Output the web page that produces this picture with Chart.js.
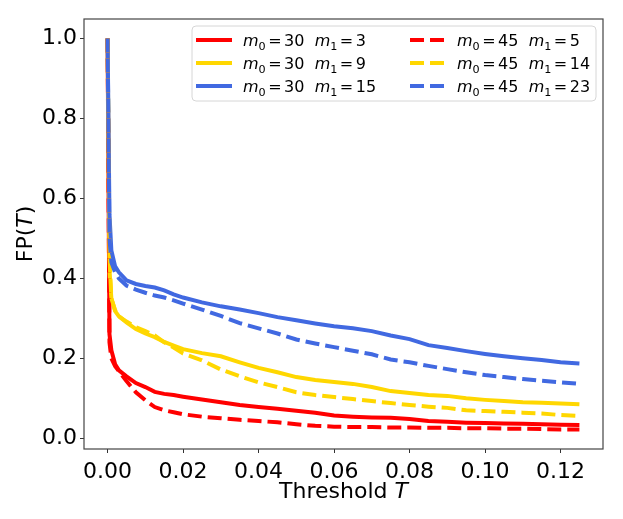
<!DOCTYPE html>
<html>
<head>
<meta charset="utf-8">
<script src="https://cdn.jsdelivr.net/npm/chart.js@4/dist/chart.umd.min.js"></script>
<style>
  body { margin: 0; background: #fff; }
  #wrap { width: 623px; height: 519px; }
</style>
</head>
<body>
<div id="wrap"><canvas id="myChart" width="623" height="519"></canvas></div>
<script>
// threshold T values (shared x for every curve)
const thresholds = [0, 0.0005, 0.001, 0.002, 0.003, 0.005, 0.0075, 0.01, 0.0125, 0.015, 0.0175, 0.02,
  0.025, 0.03, 0.035, 0.04, 0.045, 0.05, 0.055, 0.06, 0.065, 0.07, 0.075, 0.08, 0.085, 0.09,
  0.095, 0.1, 0.105, 0.11, 0.115, 0.12, 0.125];

// FP(T) per configuration
const fp30_3 = [1.0, 0.26, 0.22, 0.185, 0.17, 0.155, 0.138, 0.128, 0.116, 0.111, 0.108, 0.104,
  0.097, 0.09, 0.083, 0.078, 0.074, 0.069, 0.064, 0.057, 0.054, 0.052, 0.051, 0.048, 0.043, 0.041,
  0.039, 0.038, 0.037, 0.036, 0.035, 0.034, 0.033];
const fp30_9 = [1.0, 0.42, 0.35, 0.318, 0.305, 0.29, 0.273, 0.262, 0.253, 0.241, 0.232, 0.223,
  0.213, 0.205, 0.19, 0.176, 0.165, 0.153, 0.146, 0.141, 0.136, 0.128, 0.118, 0.113, 0.108, 0.106,
  0.1, 0.096, 0.093, 0.09, 0.089, 0.087, 0.085];
const fp30_15 = [1.0, 0.56, 0.47, 0.43, 0.415, 0.395, 0.386, 0.381, 0.377, 0.37, 0.36, 0.352,
  0.34, 0.33, 0.322, 0.313, 0.303, 0.295, 0.287, 0.28, 0.275, 0.268, 0.257, 0.248, 0.233, 0.226,
  0.218, 0.211, 0.205, 0.2, 0.196, 0.19, 0.187];
const fp45_5 = [1.0, 0.24, 0.2, 0.18, 0.168, 0.143, 0.115, 0.095, 0.078, 0.07, 0.065, 0.06,
  0.054, 0.05, 0.046, 0.043, 0.04, 0.035, 0.031, 0.029, 0.028, 0.028, 0.027, 0.027, 0.026, 0.026,
  0.025, 0.025, 0.024, 0.024, 0.023, 0.022, 0.022];
const fp45_14 = [1.0, 0.45, 0.35, 0.32, 0.305, 0.292, 0.278, 0.268, 0.257, 0.24, 0.227, 0.212,
  0.195, 0.172, 0.155, 0.14, 0.128, 0.115, 0.108, 0.103, 0.098, 0.093, 0.088, 0.083, 0.079, 0.076,
  0.07, 0.068, 0.066, 0.064, 0.062, 0.058, 0.056];
const fp45_23 = [1.0, 0.5, 0.44, 0.415, 0.4, 0.382, 0.372, 0.364, 0.357, 0.352, 0.345, 0.337,
  0.322, 0.306, 0.288, 0.275, 0.262, 0.247, 0.237, 0.228, 0.219, 0.21, 0.197, 0.19, 0.181, 0.173,
  0.165, 0.158, 0.153, 0.148, 0.144, 0.14, 0.136];

const m0Values = [30, 30, 30, 45, 45, 45];
const m1Values = [3, 9, 15, 5, 14, 23];

const xTicks = [0, 0.02, 0.04, 0.06, 0.08, 0.1, 0.12];
const yTicks = [0, 0.2, 0.4, 0.6, 0.8, 1.0];

const RED = '#ff0000', GOLD = '#ffd700', BLUE = '#4169e1';
const FONT = '"DejaVu Sans", sans-serif';

const toPoints = arr => arr.map((v, i) => ({ x: thresholds[i], y: v }));

const series = [fp30_3, fp30_9, fp30_15, fp45_5, fp45_14, fp45_23];
const colors = [RED, GOLD, BLUE, RED, GOLD, BLUE];

const datasets = series.map((s, i) => ({
  label: 'm0=' + m0Values[i] + ' m1=' + m1Values[i],
  m0: m0Values[i],
  m1: m1Values[i],
  data: toPoints(s),
  borderColor: colors[i],
  borderWidth: 4,
  borderDash: i >= 3 ? [14, 6] : [],
  pointRadius: 0,
  tension: 0,
  fill: false,
  order: 6 - i
}));

// draw "m_0=30  m_1=3" the way mathtext sets it
function drawMathLabel(ctx, x, y, m0, m1) {
  const size = 16, sub = 11.2, gap = 2.5;
  const parts = [
    ['m', 'oblique ', size, 0, 0], ['0', '', sub, 3.5, gap], ['=', '', size, 0, gap], [String(m0), '', size, 0, 0],
    ['  ', '', size, 0, 0],
    ['m', 'oblique ', size, 0, 0], ['1', '', sub, 3.5, gap], ['=', '', size, 0, gap], [String(m1), '', size, 0, 0]
  ];
  ctx.textBaseline = 'alphabetic';
  ctx.textAlign = 'left';
  ctx.fillStyle = '#000';
  parts.forEach(p => {
    ctx.font = p[1] + p[2] + 'px ' + FONT;
    ctx.fillText(p[0], x, y + p[3]);
    x += ctx.measureText(p[0]).width + p[4];
  });
  return x;
}

const framePlugin = {
  id: 'frameAndLegend',
  afterDatasetsDraw(chart) {
    const ctx = chart.ctx;
    const a = chart.chartArea;
    ctx.save();
    ctx.strokeStyle = '#444';
    ctx.lineWidth = 1.2;
    ctx.strokeRect(a.left, a.top, a.right - a.left, a.bottom - a.top);

    // legend box
    const bx = 192, by = 26, bw = 404, bh = 75, r = 4;
    ctx.beginPath();
    ctx.moveTo(bx + r, by);
    ctx.arcTo(bx + bw, by, bx + bw, by + bh, r);
    ctx.arcTo(bx + bw, by + bh, bx, by + bh, r);
    ctx.arcTo(bx, by + bh, bx, by, r);
    ctx.arcTo(bx, by, bx + bw, by, r);
    ctx.closePath();
    ctx.fillStyle = 'rgba(255,255,255,0.85)';
    ctx.fill();
    ctx.strokeStyle = '#d6d6d6';
    ctx.lineWidth = 1;
    ctx.stroke();

    chart.data.datasets.forEach((ds, i) => {
      const col = Math.floor(i / 3), row = i % 3;
      const lx = col === 0 ? 196 : 410;
      const ly = 40 + row * 23;
      ctx.beginPath();
      ctx.setLineDash(ds.borderDash);
      ctx.strokeStyle = ds.borderColor;
      ctx.lineWidth = 4;
      ctx.moveTo(lx, ly);
      ctx.lineTo(lx + 36, ly);
      ctx.stroke();
      ctx.setLineDash([]);
      drawMathLabel(ctx, lx + 47, ly + 6, ds.m0, ds.m1);
    });

    // axis titles
    ctx.fillStyle = '#000';
    ctx.textBaseline = 'alphabetic';
    const xParts = [['Threshold ', ''], ['T', 'oblique ']];
    let w = 0;
    xParts.forEach(p => { ctx.font = p[1] + '22px ' + FONT; w += ctx.measureText(p[0]).width; });
    let x = (a.left + a.right) / 2 - w / 2;
    xParts.forEach(p => {
      ctx.font = p[1] + '22px ' + FONT;
      ctx.fillText(p[0], x, 498);
      x += ctx.measureText(p[0]).width;
    });

    const yParts = [['FP(', ''], ['T', 'oblique '], [')', '']];
    w = 0;
    yParts.forEach(p => { ctx.font = p[1] + '22px ' + FONT; w += ctx.measureText(p[0]).width; });
    ctx.translate(32, (a.top + a.bottom) / 2);
    ctx.rotate(-Math.PI / 2);
    x = -w / 2;
    yParts.forEach(p => {
      ctx.font = p[1] + '22px ' + FONT;
      ctx.fillText(p[0], x, 0);
      x += ctx.measureText(p[0]).width;
    });
    ctx.restore();
  }
};

const ctx = document.getElementById('myChart').getContext('2d');
const myChart = new Chart(ctx, {
  type: 'line',
  data: { datasets: datasets },
  options: {
    responsive: false,
    animation: false,
    devicePixelRatio: 1,
    layout: { padding: { left: 0, top: 19, right: 20, bottom: 0 } },
    plugins: { legend: { display: false }, tooltip: { enabled: false } },
    scales: {
      x: {
        type: 'linear',
        min: -0.00625,
        max: 0.13125,
        afterBuildTicks: scale => { scale.ticks = xTicks.map(v => ({ value: v })); },
        afterFit: scale => { scale.height = 70; },
        grid: { drawOnChartArea: false, drawTicks: true, tickLength: 4, color: '#333' },
        border: { display: false },
        ticks: {
          color: '#000',
          padding: 6,
          maxRotation: 0,
          font: { family: FONT, size: 22 },
          callback: v => v.toFixed(2)
        }
      },
      y: {
        type: 'linear',
        min: -0.0269,
        max: 1.0489,
        afterBuildTicks: scale => { scale.ticks = yTicks.map(v => ({ value: v })); },
        afterFit: scale => { scale.width = 84; },
        grid: { drawOnChartArea: false, drawTicks: true, tickLength: 4, color: '#333' },
        border: { display: false },
        ticks: {
          color: '#000',
          padding: 3,
          font: { family: FONT, size: 22 },
          callback: v => v.toFixed(1)
        }
      }
    }
  },
  plugins: [framePlugin]
});
</script>
</body>
</html>
